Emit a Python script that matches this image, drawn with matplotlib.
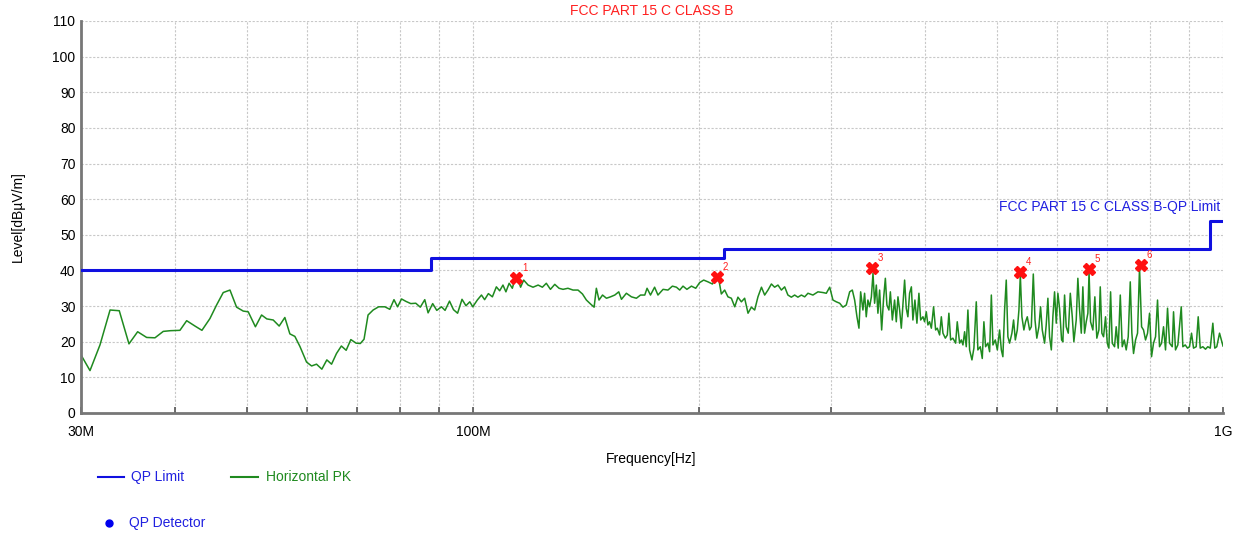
import numpy as np
import matplotlib.pyplot as plt
from matplotlib.lines import Line2D
from matplotlib.ticker import FixedLocator, NullFormatter

plt.rcParams['font.family'] = ['Liberation Sans', 'DejaVu Sans']

# QP limit (MHz, dBuV/m)
limit_freq = [30, 88, 216, 960, 1000]
limit_level = [40, 43.5, 46, 54, 54]

# horizontal peak scan (MHz, dBuV/m)
pk_freq = [
    30.0, 30.84, 31.80, 32.80, 33.74, 34.76, 35.70, 36.70, 37.65, 38.62,
    39.49, 40.65, 41.50, 42.57, 43.49, 44.57, 45.49, 46.43, 47.40, 48.37,
    49.37, 50.13, 51.25, 52.23, 53.08, 54.13, 55.13, 56.10, 56.97, 57.85,
    58.75, 59.96, 60.90, 61.83, 62.85, 63.82, 64.75, 65.74, 66.73, 67.72,
    68.70, 69.82, 70.73, 71.54, 72.43, 73.57, 74.82, 76.26, 77.43, 78.43,
    79.30, 80.27, 81.40, 82.59, 83.86, 85.03, 86.21, 87.09, 88.33, 89.44,
    90.75, 91.75, 93.01, 94.15, 95.35, 96.65, 97.83, 98.98, 99.90,
    101.3, 102.6, 103.6, 104.8, 106.1, 107.4, 108.5, 109.6, 110.6, 111.7,
    112.8, 113.6, 114.8, 115.7, 116.8, 118.4, 120.2, 122.1, 123.7, 125.2,
    126.8, 128.5, 130.2, 131.8, 133.8, 135.9, 138.0, 139.9, 141.6, 143.4,
    145.0, 146.0, 147.2, 148.8, 150.6, 152.5, 154.5, 156.4, 157.7, 160.1,
    162.6, 165.1, 167.2, 169.4, 170.6, 172.4, 174.6, 176.4, 179.2, 181.9,
    184.4, 186.7, 188.6, 190.5, 192.8, 195.5, 198.1, 200.5, 203.0, 205.7,
    208.5, 211.1, 212.8, 214.3, 216.5, 218.7, 221.0, 223.3, 225.5, 227.9,
    230.2, 232.6, 235.0, 237.4, 239.8, 242.4, 244.8, 247.3, 249.9, 252.4,
    255.0, 257.7, 260.3, 262.9, 265.7, 268.4, 271.1, 274.0, 276.8, 279.6,
    283.9, 288.3, 292.8, 295.8, 298.9,
    301.9, 305.0, 308.2, 311.3, 314.5, 317.8, 320.4, 322.7, 325.0, 327.0,
    328.7, 331.0, 332.7, 334.4, 336.1, 337.9, 339.7, 341.4, 343.1, 344.9,
    346.6, 348.4, 350.6, 352.7, 354.6, 356.3, 358.5, 360.1, 362.3, 364.8,
    366.7, 368.6, 370.5, 372.4, 374.3, 376.2, 378.1, 380.0, 382.0, 384.1,
    385.9, 388.3, 390.7, 393.1, 395.2, 398.0, 400.0, 402.1, 404.1, 406.2,
    408.4, 411.2, 413.8, 415.9, 418.9, 421.1, 423.2, 426.3, 428.9, 431.0,
    433.3, 436.3, 440.0, 442.2, 445.4, 447.8, 450.0, 452.3, 454.6, 456.9,
    459.3, 462.6, 465.4, 468.8, 471.1, 474.6, 477.5, 479.9, 482.4, 485.8,
    488.4, 491.0, 493.4, 497.0, 500.1, 503.6, 506.3, 508.7, 511.4, 514.0,
    516.6, 519.3, 523.0, 525.7, 528.5, 531.7, 534.4, 536.7, 539.3, 542.6,
    545.4, 548.3, 552.2, 555.1, 558.5, 561.5, 564.6, 568.2, 571.1, 574.1,
    578.2, 581.1, 584.1, 587.1, 590.3, 593.1, 596.2, 599.3, 602.3, 605.4,
    609.2, 611.6, 614.8, 617.9, 621.8, 625.7, 629.5, 632.6, 637.2, 640.4,
    643.8, 647.2, 650.3, 653.7, 657.1, 660.4, 662.8, 665.9, 670.6, 674.7,
    678.8, 683.1, 686.0, 689.4, 693.0, 697.2, 700.9, 704.4, 708.1, 711.7,
    716.8, 720.4, 724.9, 729.5, 733.9, 738.4, 742.9, 747.5, 752.2, 755.9,
    759.8, 764.5, 769.2, 773.9, 778.8, 783.5, 788.3, 793.2, 798.1, 803.0,
    807.9, 812.9, 817.9, 822.9, 828.1, 833.1, 838.2, 843.4, 848.6, 855.7,
    859.1, 864.3, 870.5, 879.7, 884.0, 890.5, 896.8, 902.3, 907.9, 913.5,
    921.0, 926.7, 932.5, 940.0, 947.7, 954.4, 961.6, 969.3, 975.1, 981.1,
    989.4, 1000.0,
]
pk_level = [
    16.3, 11.9, 19.1, 28.9, 28.7, 19.4, 22.8, 21.2, 21.1, 22.9,
    23.1, 23.2, 25.9, 24.4, 23.2, 26.5, 30.3, 33.8, 34.5, 29.7,
    28.6, 28.4, 24.2, 27.5, 26.4, 26.1, 24.4, 26.8, 22.2, 21.5,
    18.7, 14.3, 13.2, 13.7, 12.3, 14.9, 13.7, 16.7, 18.8, 17.6,
    20.6, 19.6, 19.5, 20.7, 27.5, 28.9, 29.8, 29.8, 29.1, 31.8,
    29.8, 32.0, 31.3, 30.7, 30.8, 29.7, 31.8, 28.1, 30.7, 28.8,
    29.8, 28.8, 31.4, 29.0, 28.0, 31.9, 30.1, 31.2, 29.8,
    31.7, 33.1, 31.8, 33.5, 32.6, 35.4, 34.3, 35.9, 34.0, 36.4,
    35.0, 37.3, 37.5, 35.3, 37.3, 35.9, 35.3, 35.9, 35.3, 36.4,
    34.7, 36.1, 35.0, 34.7, 35.0, 34.5, 34.5, 33.4, 31.7, 30.6,
    29.7, 35.0, 31.7, 33.1, 32.2, 32.6, 33.1, 34.0, 31.9, 33.6,
    32.6, 32.2, 33.1, 33.1, 35.0, 33.1, 35.3, 33.1, 34.7, 34.5,
    35.6, 35.3, 34.5, 35.6, 34.7, 35.6, 35.0, 36.6, 37.3, 36.8,
    36.2, 38.1, 37.1, 33.4, 34.5, 32.6, 32.2, 29.8, 32.5, 31.2,
    32.2, 28.0, 29.7, 28.9, 32.6, 35.3, 33.1, 34.5, 36.2, 35.3,
    35.9, 34.5, 35.4, 33.1, 32.5, 33.1, 32.5, 33.1, 32.6, 33.6,
    33.1, 34.0, 33.8, 33.6, 35.3,
    31.7, 31.2, 30.8, 29.7, 30.3, 34.0, 34.5, 31.7, 27.0, 23.8,
    34.0, 28.9, 33.6, 27.0, 31.7, 29.8, 32.6, 39.2, 30.8, 35.9,
    28.0, 34.5, 23.3, 32.2, 37.8, 30.3, 28.9, 34.0, 26.1, 31.7,
    25.6, 32.6, 28.9, 23.8, 30.8, 37.3, 29.4, 27.0, 33.6, 35.4,
    26.1, 31.7, 25.2, 33.6, 26.1, 27.0, 25.6, 28.4, 24.7, 25.6,
    23.8, 29.8, 23.3, 23.8, 21.9, 27.0, 22.4, 21.0, 21.9, 28.0,
    20.5, 21.0, 19.6, 25.6, 19.6, 20.5, 19.1, 22.8, 18.6, 28.9,
    17.7, 14.9, 18.2, 31.2, 17.7, 18.6, 15.3, 25.6, 18.6, 19.6,
    17.2, 33.1, 19.1, 20.5, 17.7, 23.3, 17.7, 15.8, 28.9, 37.3,
    21.4, 19.6, 22.4, 26.1, 20.5, 23.3, 28.9, 38.7, 27.0, 23.3,
    25.6, 27.0, 23.3, 24.2, 39.0, 26.0, 21.0, 24.2, 29.8, 23.3,
    19.6, 24.7, 32.2, 21.4, 17.7, 27.0, 34.0, 25.2, 33.6, 29.4,
    20.5, 20.0, 33.1, 24.2, 22.4, 33.6, 27.0, 20.0, 26.1, 37.8,
    28.9, 22.4, 35.4, 22.4, 25.6, 28.0, 39.5, 25.6, 23.3, 32.6,
    21.0, 23.3, 35.4, 22.4, 21.4, 27.0, 19.6, 18.2, 34.0, 19.6,
    18.6, 24.2, 18.2, 33.1, 18.6, 20.5, 17.7, 21.4, 36.8, 22.4,
    16.7, 20.5, 22.4, 40.8, 24.2, 23.3, 20.5, 22.4, 28.0, 15.8,
    19.6, 21.4, 31.7, 18.6, 19.6, 24.2, 17.7, 29.4, 19.6, 18.6,
    28.4, 17.7, 19.1, 29.8, 18.6, 19.1, 18.2, 18.6, 22.4, 18.2,
    18.6, 27.0, 18.2, 18.6, 17.9, 18.6, 18.2, 25.2, 18.2, 18.6,
    22.4, 18.8,
]

# QP detector final points
qp_freq = [114.2, 211.7, 340.7, 536.7, 662.4, 776.4]
qp_level = [37.8, 38.2, 40.6, 39.7, 40.3, 41.5]
qp_label = ['1', '2', '3', '4', '5', '6']

fig = plt.figure(figsize=(12.4, 5.37), dpi=100)
ax = fig.add_axes([81/1240, 1-413/537, 1142/1240, 392/537])

ax.plot(limit_freq, limit_level, drawstyle='steps-post', color='#1010e0', lw=2.2, zorder=3)
ax.plot(pk_freq, pk_level, color='#1f8a1f', lw=1.1, zorder=2)
ax.plot(qp_freq, qp_level, 'X', color='#ff1010', ms=8, mec='#ff1010', zorder=4)
for f, l, t in zip(qp_freq, qp_level, qp_label):
    ax.annotate(t, (f, l), xytext=(4, 5), textcoords='offset points', color='#ff2020', fontsize=7)

ax.set_xscale('log')
ax.set_xlim(30, 1000)
ax.set_ylim(0, 110)
ax.xaxis.set_major_locator(FixedLocator([30, 100, 1000]))
ax.set_xticklabels(['30M', '100M', '1G'])
ax.xaxis.set_minor_locator(FixedLocator([40, 50, 60, 70, 80, 90, 200, 300, 400, 500, 600, 700, 800, 900]))
ax.xaxis.set_minor_formatter(NullFormatter())
ax.set_yticks(range(0, 111, 10))
ax.grid(True, which='both', color='#c8c8c8', ls=(0, (2, 1.5)), lw=0.8)
ax.tick_params(axis='x', which='both', direction='in', length=4, width=1.2, color='#555555', pad=9, labelsize=10)
ax.tick_params(axis='y', length=0, pad=4, labelsize=10)
for s in ['top', 'right']:
    ax.spines[s].set_visible(False)
for s in ['left', 'bottom']:
    ax.spines[s].set_color('#777777')
    ax.spines[s].set_linewidth(2)

ax.set_title('FCC PART 15 C CLASS B', color='#ff2020', fontsize=10, pad=4)
ax.text(0.998, 57.8, 'FCC PART 15 C CLASS B-QP Limit', transform=ax.get_yaxis_transform(),
        ha='right', va='center', color='#2020e0', fontsize=10)
fig.text(651/1240, 1-459/537, 'Frequency[Hz]', ha='center', va='center', fontsize=10)
fig.text(18/1240, 1-217/537, 'Level[dB\u00b5V/m]', ha='center', va='center', rotation=90, fontsize=10)

# legend below the axes
fig.add_artist(Line2D([98/1240, 124/1240], [1-477/537, 1-477/537], color='#1010e0', lw=1.5))
fig.text(131/1240, 1-477/537, 'QP Limit', color='#2020e0', va='center', fontsize=10)
fig.add_artist(Line2D([231/1240, 258/1240], [1-477/537, 1-477/537], color='#1f8a1f', lw=1.5))
fig.text(266/1240, 1-477/537, 'Horizontal PK', color='#1f8a1f', va='center', fontsize=10)
fig.add_artist(Line2D([109/1240], [1-523/537], marker='o', color='#0000ee', ms=5, ls='none'))
fig.text(129/1240, 1-523/537, 'QP Detector', color='#2020e0', va='center', fontsize=10)

plt.savefig('out.png', dpi=100)
